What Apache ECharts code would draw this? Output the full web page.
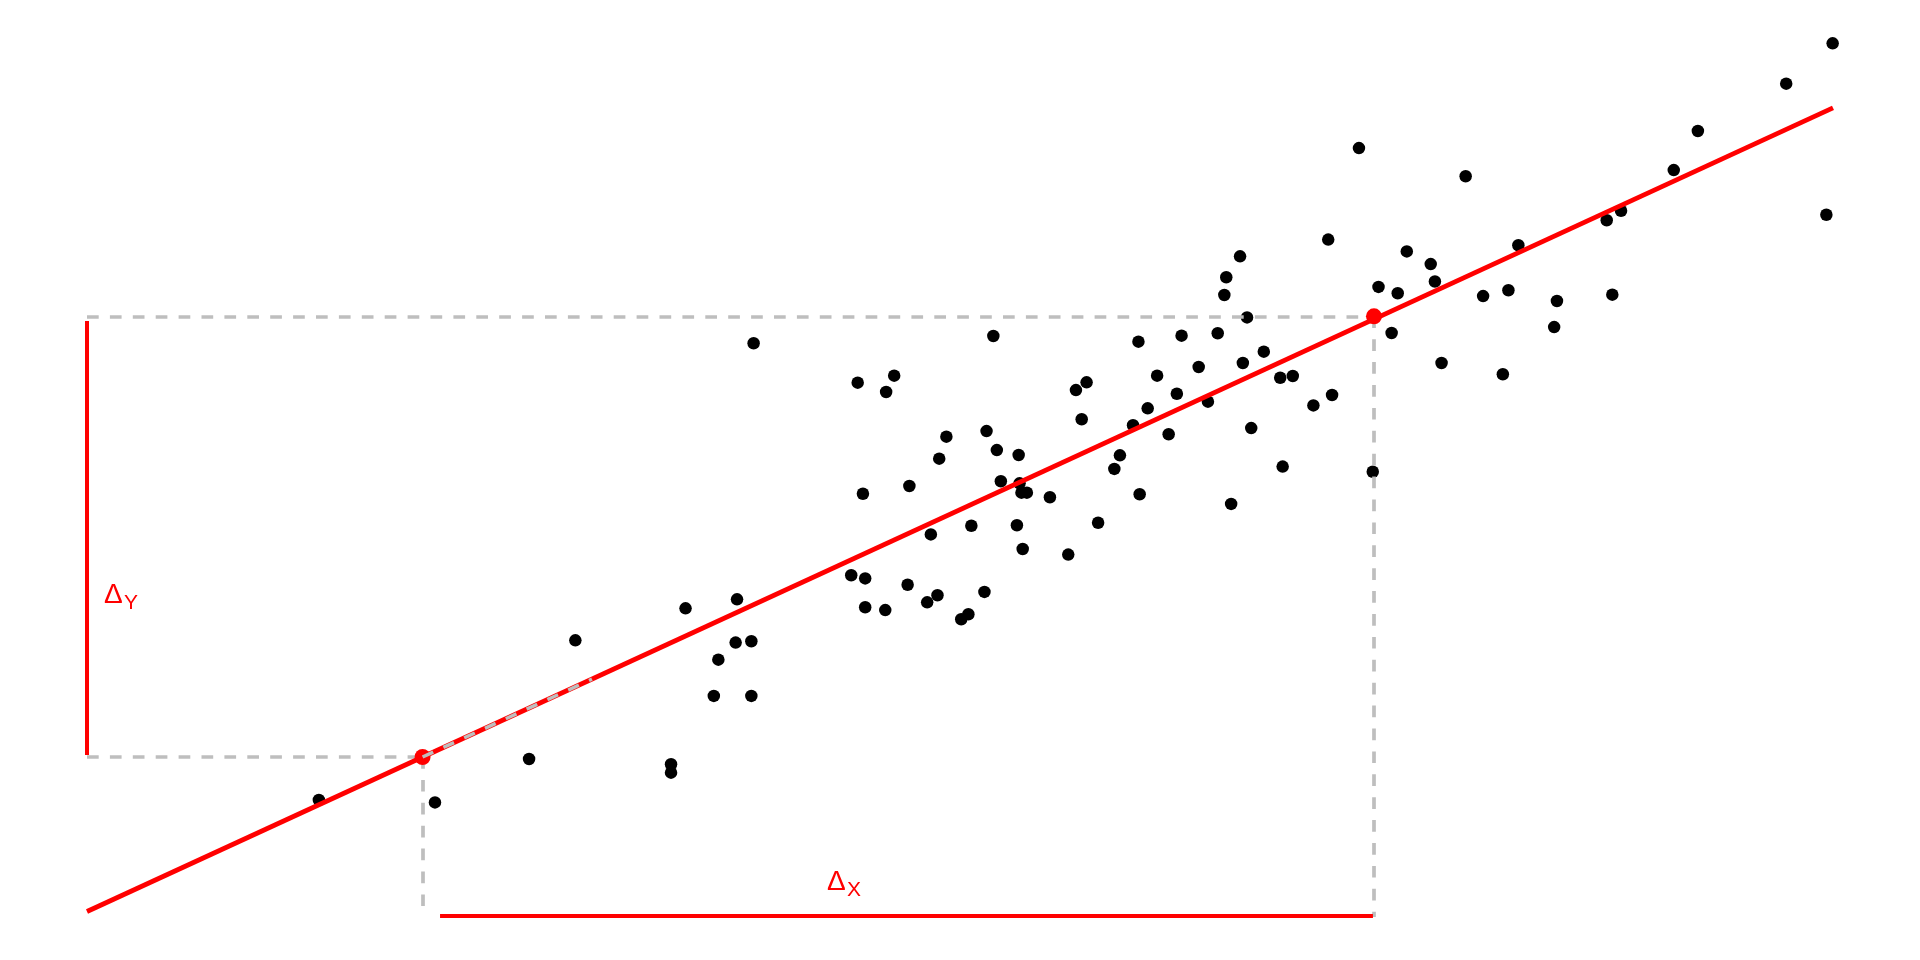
<!DOCTYPE html>
<html>
<head>
<meta charset="utf-8">
<script src="https://cdn.jsdelivr.net/npm/echarts@6/dist/echarts.min.js"></script>
<style>html,body{margin:0;padding:0;background:#fff}#c{width:1920px;height:960px}</style>
</head>
<body>
<div id="c"></div>
<script>
// Observed data points (x, y)
const pointX = [38.18,51.91,44.14,46.23,45.77,60.22,62.69,64.76,66.44,67.40,66.20,63.67,61.29,57.25,56.64,62.42,60.75,64.20,68.34,69.06,
  70.24,71.31,74.72,56.97,59.91,61.95,66.68,51.52,49.22,52.11,53.36,48.81,59.16,58.84,68.48,73.64,52.34,53.41,53.52,53.83,
  55.15,60.29,65.53,44.44,47.10,48.33,50.65,53.26,53.59,57.91,56.20,43.77,44.57,47.00,44.57,45.72,48.71,48.12,51.40,50.48,
  50.07,37.23,37.15,38.05,36.16,35.90,38.05,75.59,76.96,77.20,73.97,75.07,79.96,81.41,84.19,87.36,84.03,77.58,81.09,
  99.98,97.32,92.26,90.88,99.62,72.85,78.96,71.09,81.98,87.04,87.86,13.28,19.93,25.32,27.97,33.45,33.45,34.28,
  66.04,65.25,65.14];
const pointY = [32.77,33.18,30.53,30.93,30.00,32.86,33.20,33.34,34.24,32.29,31.65,31.42,30.93,30.55,30.11,29.90,29.07,29.45,30.81,30.91,
  29.24,29.83,33.35,28.45,28.11,27.60,27.95,27.78,27.46,26.70,26.42,26.21,26.40,25.63,25.76,25.47,24.93,24.81,24.28,24.28,
  24.02,24.19,23.64,24.22,24.66,21.91,22.40,22.43,21.08,22.57,20.76,19.59,19.41,19.05,17.77,17.61,18.45,18.05,18.64,17.37,
  17.09,18.22,15.76,15.84,14.79,12.73,12.73,37.99,37.27,36.28,35.97,35.61,35.45,35.78,35.17,35.53,33.69,31.65,31.01,
  49.81,47.52,44.83,42.61,40.07,43.86,42.26,38.66,38.34,39.76,40.30,6.82,6.68,9.15,15.89,8.85,8.37,17.71,
  37.71,36.52,35.51];

// Fitted line end points
const fitX = [0, 100];
const fitY = [0.48, 46.14];

// Two highlighted points on the fit
const anchorX = [19.22, 73.71];
const anchorY = [9.26, 34.30];

// Guide levels
const guideBottomY = 0.17;      // where vertical dashed guides end
const deltaYBar = [34.03, 9.38]; // red vertical bar at x = 0
const deltaYBarX = 0;
const deltaXBar = [20.22, 73.65]; // red horizontal bar
const deltaXBarY = 0.23;
const diagDashEndX = 28.92;       // gray dashed overlay along the fit

// Labels: [main, subscript, x, y, subX, subY]
const labelDY = ['Δ', 'Y', 0.97, 18.47, 2.12, 17.98];
const labelDX = ['Δ', 'X', 42.38, 2.13, 43.53, 1.70];

const fitAt = x => fitY[0] + (fitY[1] - fitY[0]) * (x - fitX[0]) / (fitX[1] - fitX[0]);

const chart = echarts.init(document.getElementById('c'), null, {renderer: 'canvas'});
const GRAY = '#BEBEBE', RED = '#FF0000';
const dash = [11.7, 11.2];

const option = {
  animation: false,
  backgroundColor: '#ffffff',
  grid: {left: 87, right: 87, top: 40, bottom: 40},
  xAxis: {type: 'value', min: 0, max: 100, show: false},
  yAxis: {type: 'value', min: 0, max: 50, show: false},
  series: [
    {
      type: 'scatter', z: 1, clip: false,
      symbolSize: 12.5,
      itemStyle: {color: '#000000', opacity: 1},
      data: pointX.map((x, i) => [x, pointY[i]])
    },
    {
      type: 'lines', coordinateSystem: 'cartesian2d', z: 2, clip: false, polyline: false,
      lineStyle: {color: GRAY, width: 3.7, type: dash, opacity: 1},
      data: [
        {coords: [[0, anchorY[1]], [anchorX[1], anchorY[1]]]},
        {coords: [[0, anchorY[0]], [anchorX[0], anchorY[0]]]},
        {coords: [[anchorX[0], anchorY[0]], [anchorX[0], guideBottomY]]},
        {coords: [[anchorX[1], anchorY[1]], [anchorX[1], guideBottomY]]}
      ]
    },
    {
      type: 'lines', coordinateSystem: 'cartesian2d', z: 3, clip: false,
      lineStyle: {color: RED, width: 4, type: 'solid', opacity: 1},
      data: [
        {coords: [[deltaYBarX, deltaYBar[0]], [deltaYBarX, deltaYBar[1]]]},
        {coords: [[deltaXBar[0], deltaXBarY], [deltaXBar[1], deltaXBarY]]}
      ]
    },
    {
      type: 'line', z: 4, clip: false, symbol: 'none',
      lineStyle: {color: RED, width: 4.8, cap: 'butt'},
      data: fitX.map((x, i) => [x, fitY[i]])
    },
    {
      type: 'scatter', z: 5, clip: false,
      symbolSize: 16,
      itemStyle: {color: RED, opacity: 1},
      data: anchorX.map((x, i) => [x, anchorY[i]])
    },
    {
      type: 'lines', coordinateSystem: 'cartesian2d', z: 6, clip: false,
      lineStyle: {color: GRAY, width: 3.5, type: dash, opacity: 1},
      data: [
        {coords: [[anchorX[0], anchorY[0]], [diagDashEndX, fitAt(diagDashEndX)]]}
      ]
    }
  ]
};
chart.setOption(option);

function textEls(lbl) {
  const p1 = chart.convertToPixel({gridIndex: 0}, [lbl[2], lbl[3]]);
  const p2 = chart.convertToPixel({gridIndex: 0}, [lbl[4], lbl[5]]);
  return [
    {type: 'text', x: p1[0], y: p1[1], z: 10,
     style: {text: lbl[0], fill: RED, font: '28px "Liberation Sans", Arial, sans-serif', align: 'left', verticalAlign: 'middle'}},
    {type: 'text', x: p2[0], y: p2[1], z: 10,
     style: {text: lbl[1], fill: RED, font: '21px "Liberation Sans", Arial, sans-serif', align: 'left', verticalAlign: 'middle'}}
  ];
}
chart.setOption({graphic: {elements: textEls(labelDY).concat(textEls(labelDX))}});
</script>
</body>
</html>
